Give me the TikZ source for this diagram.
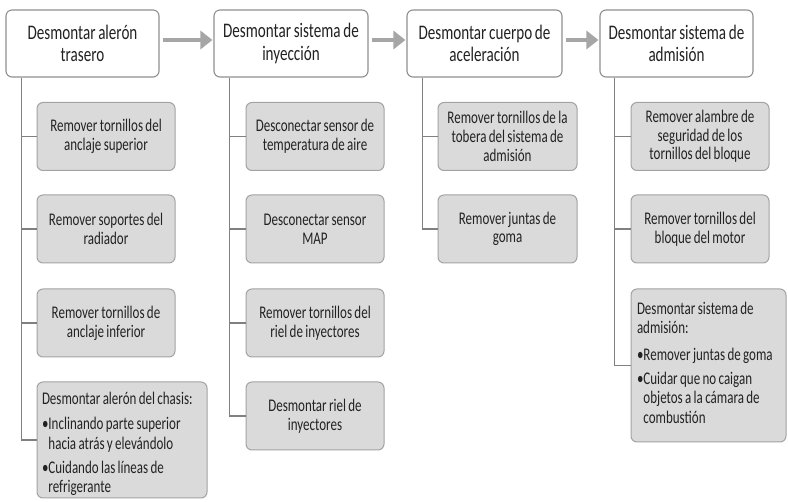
\documentclass[tikz,border=0pt]{standalone}
\usepackage{fontspec}
\setmainfont{Carlito}[FakeStretch=0.73, WordSpace=0.8]
\usetikzlibrary{arrows.meta}
\definecolor{headline}{HTML}{8F8F8F}
\definecolor{stepline}{HTML}{A3A3A3}
\definecolor{stepfill}{HTML}{DADADA}
\definecolor{connc}{HTML}{808080}
\definecolor{flowc}{HTML}{A6A6A6}
\definecolor{textc}{HTML}{222222}
\newcommand{\blt}{•}
\newcommand{\hang}{\phantom{•}}
\begin{document}
\begin{tikzpicture}[x=1pt,y=-1pt,
  headbox/.style={draw=headline, fill=white, rounded corners=6pt, line width=1.1pt,
    inner sep=0pt, align=center, text=textc, minimum height=67pt,
    font=\fontsize{20.7}{22.3}\selectfont},
  stepbox/.style={draw=stepline, fill=stepfill, rounded corners=6pt, line width=1pt,
    inner sep=0pt, align=center, text=textc, minimum width=138pt, minimum height=68pt,
    font=\fontsize{17.8}{18.7}\selectfont},
  listbox/.style={stepbox, align=flush left, font=\fontsize{17.8}{19.5}\selectfont},
  conn/.style={draw=connc, line width=1.6pt},
  flow/.style={draw=flowc, line width=4.5pt, shorten >=1pt,
    -{Triangle[length=12pt,width=18pt]}}]

\fill[white, use as bounding box] (0,0) rectangle (788,502);

% main stages
\node[headbox, minimum width=153pt] (h1) at (82.5,43.5) {Desmontar alerón\\trasero};
\node[headbox, minimum width=154pt] (h2) at (291,43.5) {Desmontar sistema de\\inyección};
\node[headbox, minimum width=155pt] (h3) at (484.5,43.5) {Desmontar cuerpo de\\aceleración};
\node[headbox, minimum width=153pt] (h4) at (676.5,43.5) {Desmontar sistema de\\admisión};

% stage 1 steps
\node[stepbox] (a1) at (106,136.5) {Remover tornillos del\\anclaje superior};
\node[stepbox] (a2) at (106,229) {Remover soportes del\\radiador};
\node[stepbox] (a3) at (106,323) {Remover tornillos de\\anclaje inferior};
\node[listbox, minimum width=170pt, minimum height=116pt, text width=160pt] (a4) at (122,440)
  {\mbox{Desmontar alerón del chasis:}\\[5.5pt]
   \mbox{\blt Inclinando parte superior}\\
   \mbox{\hang hacia atrás y elevándolo}\\[4.5pt]
   \mbox{\blt Cuidando las líneas de}\\
   \mbox{\hang refrigerante}\par\vspace{-8pt}};

% stage 2 steps
\node[stepbox] (b1) at (315,136.5) {Desconectar sensor de\\temperatura de aire};
\node[stepbox] (b2) at (315,229) {Desconectar sensor\\MAP};
\node[stepbox] (b3) at (315,323) {Remover tornillos del\\riel de inyectores};
\node[stepbox] (b4) at (315,416) {Desmontar riel de\\inyectores};

% stage 3 steps
\node[stepbox, minimum width=139pt] (c1) at (507.5,136.5) {Remover tornillos de la\\tobera del sistema de\\admisión};
\node[stepbox, minimum width=139pt] (c2) at (507.5,229) {Remover juntas de\\goma};

% stage 4 steps
\node[stepbox] (d1) at (700,136.5) {Remover alambre de\\seguridad de los\\tornillos del bloque};
\node[stepbox] (d2) at (700,229) {Remover tornillos del\\bloque del motor};
\node[listbox, minimum width=155pt, minimum height=153pt, text width=143pt] (d3) at (708.5,365.5)
  {\mbox{Desmontar sistema de}\\
   \mbox{admisión:}\\[7pt]
   \mbox{\blt Remover juntas de goma}\\[4.5pt]
   \mbox{\blt Cuidar que no caigan}\\
   \mbox{\hang objetos a la cámara de}\\
   \mbox{\hang combustión}\par\vspace{6pt}};

% branch connectors
\coordinate (t1) at ([xshift=16pt]h1.south west);
\coordinate (t2) at ([xshift=16pt]h2.south west);
\coordinate (t3) at ([xshift=16pt]h3.south west);
\coordinate (t4) at ([xshift=15pt]h4.south west);
\draw[conn] (t1) |- (a1.west) (t1) |- (a2.west) (t1) |- (a3.west) (t1) |- (a4.west);
\draw[conn] (t2) |- (b1.west) (t2) |- (b2.west) (t2) |- (b3.west) (t2) |- (b4.west);
\draw[conn] (t3) |- (c1.west) (t3) |- (c2.west);
\draw[conn] (t4) |- (d1.west) (t4) |- (d2.west) (t4) |- (d3.west);

% sequence arrows
\draw[flow] ([xshift=3pt,yshift=3.5pt]h1.east) -- ([yshift=3.5pt]h2.west);
\draw[flow] ([xshift=3pt,yshift=3.5pt]h2.east) -- ([yshift=3.5pt]h3.west);
\draw[flow] ([xshift=3pt,yshift=3.5pt]h3.east) -- ([yshift=3.5pt]h4.west);
\end{tikzpicture}
\end{document}
